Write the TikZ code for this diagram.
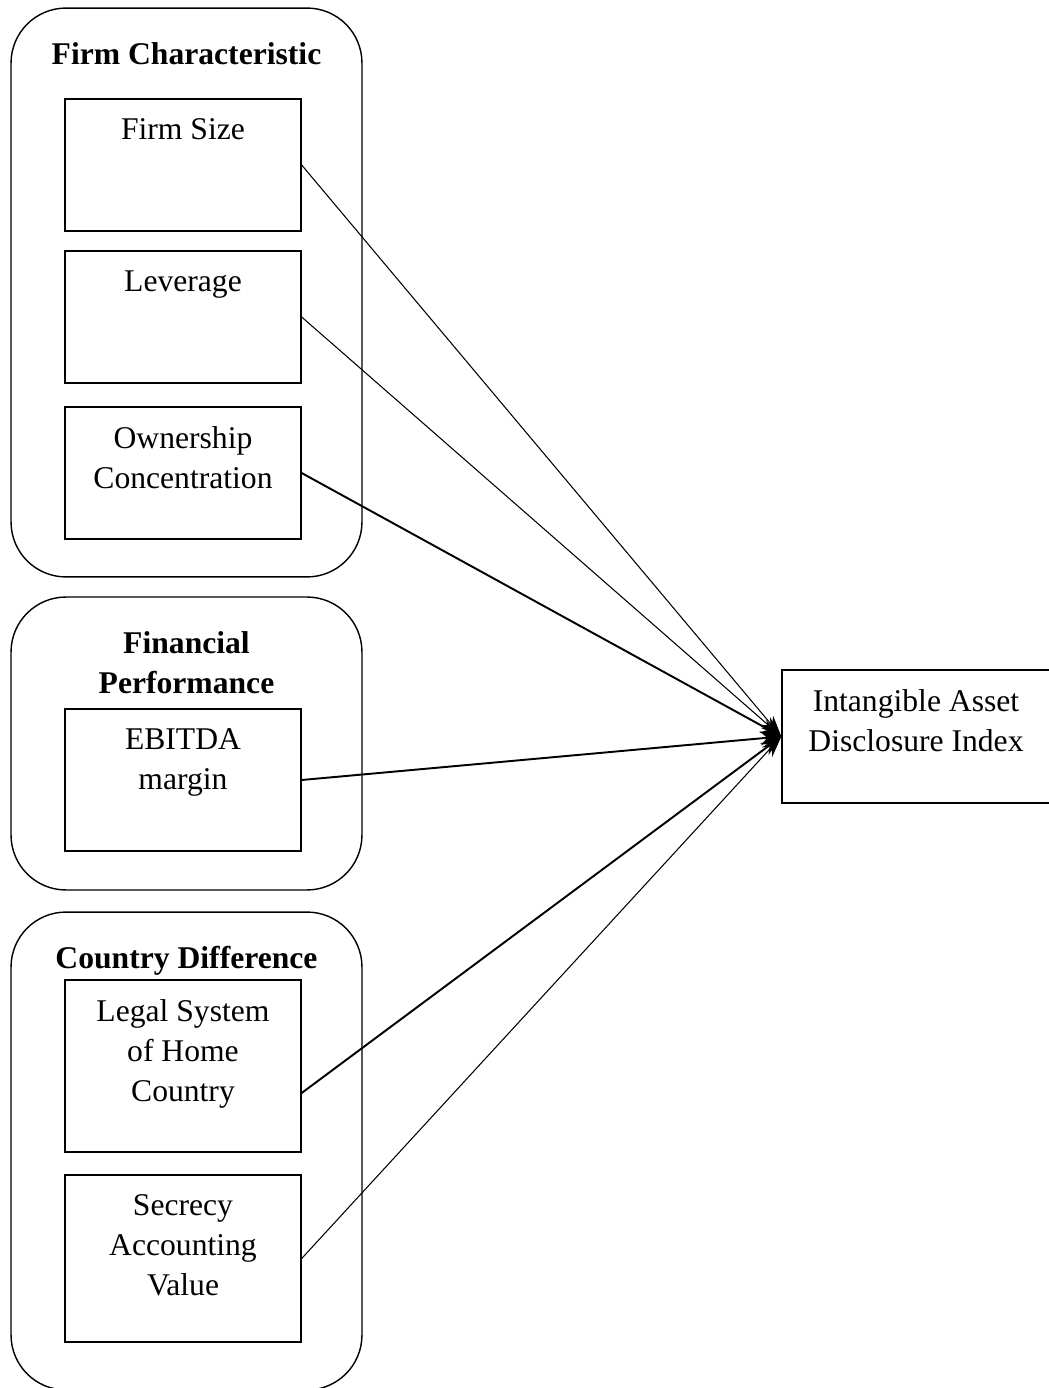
\documentclass[tikz,border=0pt]{standalone}
\usepackage{fontspec}
\setmainfont{Liberation Serif}
\usetikzlibrary{arrows.meta,positioning}

\begin{document}
\begin{tikzpicture}[
    x=0.02cm, y=-0.02cm,
    group/.style={rectangle, draw, rounded corners=1.1cm, minimum width=7.02cm, line width=0.8pt},
    item/.style={rectangle, draw, minimum width=4.72cm, line width=0.8pt},
    txt/.style={anchor=north, inner sep=0pt, align=center, yshift=-0.4cm, font=\fontsize{18}{22.76}\selectfont},
    head/.style={txt, yshift=-0.29cm, font=\fontsize{18}{22.76}\selectfont\bfseries},
    arrow/.style={-{Stealth[length=12pt,width=8pt]}, line width=0.6pt},
    heavy/.style={arrow, line width=1.1pt}
]
\useasboundingbox (0,0) rectangle (1048,1388);

% Groups
\node[group, minimum height=11.38cm, label={[head]north:Firm Characteristic}] (firm) at (186.5,292.5) {};
\node[group, minimum height=5.86cm, label={[head]north:{Financial\\Performance}}] (fin) at (186.5,743.5) {};
\node[group, minimum height=9.56cm, label={[head]north:Country Difference}] (country) at (186.5,1151) {};

% Variables
\node[item, minimum height=2.64cm, label={[txt]north:Firm Size}] (size) at (183,165) {};
\node[item, minimum height=2.64cm, label={[txt]north:Leverage}] (lev) at (183,317) {};
\node[item, minimum height=2.64cm, label={[txt]north:{Ownership\\Concentration}}] (own) at (183,473) {};
\node[item, minimum height=2.84cm, label={[txt]north:{EBITDA\\margin}}] (ebitda) at (183,780) {};
\node[item, minimum height=3.44cm, label={[txt]north:{Legal System\\of Home\\Country}}] (legal) at (183,1066) {};
\node[item, minimum height=3.34cm, label={[txt]north:{Secrecy\\Accounting\\Value}}] (secrecy) at (183,1258.5) {};

% Dependent
\node[item, minimum width=5.36cm, minimum height=2.66cm, label={[txt]north:{Intangible Asset\\Disclosure Index}}] (index) at (916,736.5) {};

% Arrows
\draw[arrow] (size.east) -- (index.west);
\draw[arrow] (lev.east) -- (index.west);
\draw[heavy] (own.east) -- (index.west);
\draw[heavy] (ebitda.east) -- (index.west);
\draw[heavy] ([yshift=-0.54cm]legal.east) -- (index.west);
\draw[arrow] (secrecy.east) -- (index.west);

\end{tikzpicture}
\end{document}
